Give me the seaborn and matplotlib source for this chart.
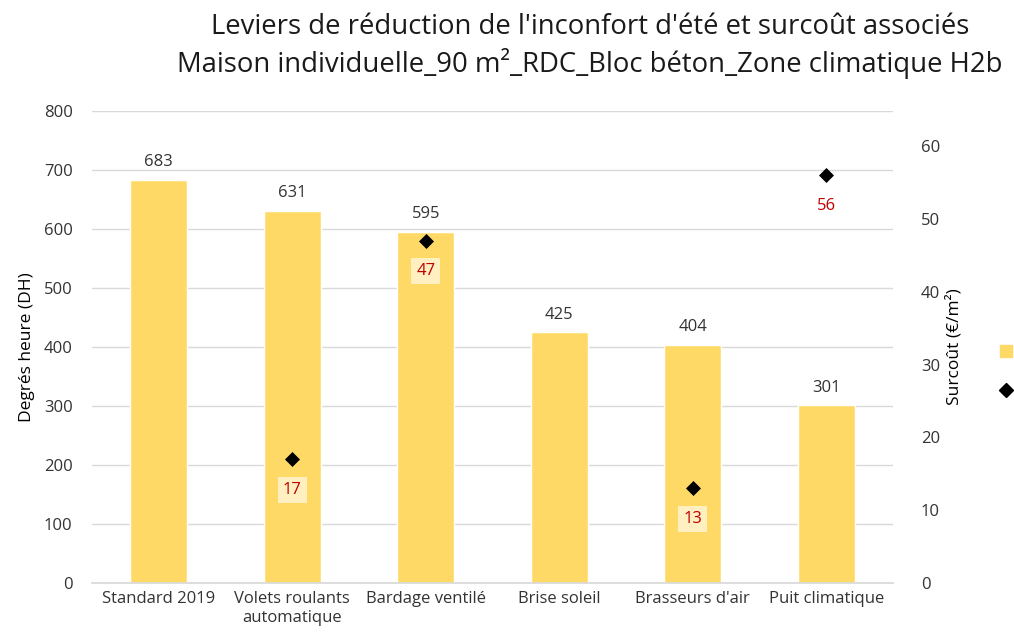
import matplotlib
matplotlib.use("Agg")
import numpy as np
import pandas as pd
import matplotlib.pyplot as plt
import seaborn as sns
from matplotlib.lines import Line2D

categories = ["Standard 2019", "Volets roulants\nautomatique", "Bardage ventilé",
              "Brise soleil", "Brasseurs d'air", "Puit climatique"]
degres_heure = [683, 631, 595, 425, 404, 301]
surcout = [np.nan, 17, 47, np.nan, 13, 56]

bar_color = "#FFD966"
text_color = "#333333"
grid_color = "#D9D9D9"

sns.set_theme(style="white")
plt.rcParams["font.family"] = ["Open Sans", "DejaVu Sans"]

df = pd.DataFrame({"levier": categories, "dh": degres_heure,
                   "pos": range(len(categories)), "cout": surcout})
pts = df.dropna(subset=["cout"])

fig = plt.figure(figsize=(10.14, 6.44), dpi=100)
ax = fig.add_axes([0.0907, 0.0947, 0.790, 0.7329])

sns.barplot(data=df, x="levier", y="dh", color=bar_color, saturation=1,
            width=0.43, ax=ax, zorder=2)
ax.bar_label(ax.containers[0], padding=7, fontsize=12, color=text_color)
ax.set_ylim(0, 800)
ax.set_yticks(range(0, 801, 100))
ax.yaxis.grid(True, color=grid_color, linewidth=1, zorder=0)
ax.set_axisbelow(True)
ax.set_xlabel("")
ax.set_ylabel("Degrés heure (DH)", fontsize=12.5, color="black", labelpad=6)
ax.tick_params(axis="both", length=0, labelsize=12, colors=text_color, pad=14)
ax.tick_params(axis="x", pad=6)
for s in ["top", "right", "left"]:
    ax.spines[s].set_visible(False)
ax.spines["bottom"].set_color(grid_color)
ax.set_xlim(-0.5, len(categories) - 0.5)

ax2 = ax.twinx()
sns.scatterplot(data=pts, x="pos", y="cout", marker="D", color="black",
                s=50, edgecolor="black", ax=ax2, zorder=3)
ax2.set_ylim(0, 64.8)
ax2.set_yticks(range(0, 61, 10))
ax2.set_ylabel("Surcoût (€/m²)", fontsize=12.5, color="black", labelpad=4)
ax2.tick_params(axis="y", length=0, labelsize=12, colors=text_color, pad=20)
for s in ax2.spines.values():
    s.set_visible(False)
ax2.set_xlim(-0.5, len(categories) - 0.5)

for x, v in zip(pts["pos"], pts["cout"]):
    inside = degres_heure[int(x)] * 64.8 / 800 > v
    ax2.annotate(f"{int(v)}", (x, v), xytext=(0, -22), textcoords="offset points",
                 ha="center", va="center", fontsize=12, color="#C00000",
                 bbox=dict(boxstyle="square,pad=0.3", fc="white",
                           ec="none", alpha=0.6 if inside else 0))

fig.suptitle("Leviers de réduction de l'inconfort d'été et surcoût associés\n"
             "Maison individuelle_90 m²_RDC_Bloc béton_Zone climatique H2b",
             x=0.582, y=0.98, fontsize=19.8, color="#1a1a1a", linespacing=1.3)

# legend sits at the right edge, only its markers are visible
handles = [Line2D([], [], marker="s", linestyle="", color=bar_color, markersize=9),
           Line2D([], [], marker="D", linestyle="", color="black", markersize=7)]
fig.legend(handles, ["", ""], loc="center left",
           bbox_to_anchor=(0.986, 0.422), frameon=False, borderpad=0,
           borderaxespad=0, handlelength=0.8, handletextpad=0.5,
           labelspacing=1.4, fontsize=12)

fig.savefig("out.png", dpi=100)
